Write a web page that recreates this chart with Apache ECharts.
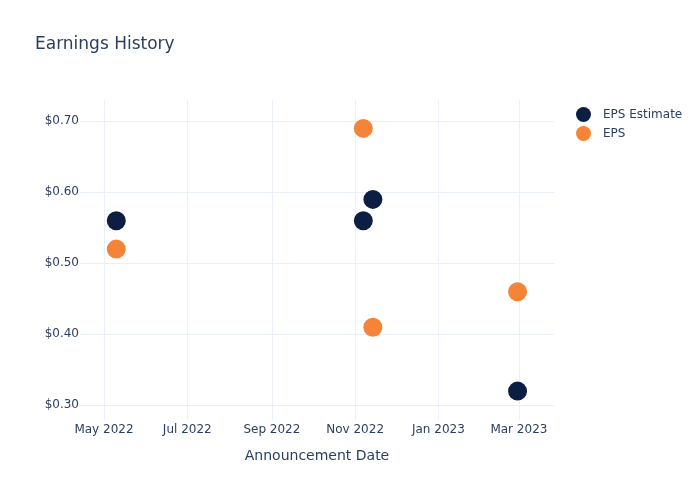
<!DOCTYPE html>
<html>
<head>
<meta charset="utf-8">
<script src="https://cdn.jsdelivr.net/npm/echarts@6/dist/echarts.min.js"></script>
<style>html,body{margin:0;padding:0;background:#fff;}#c{width:700px;height:500px;}</style>
</head>
<body>
<div id="c"></div>
<script>
const announcementDates = ['2022-05-10', '2022-11-07', '2022-11-14', '2023-02-28'];
const epsEstimate = [0.56, 0.56, 0.59, 0.32];
const epsActual = [0.52, 0.69, 0.41, 0.46];
const xTickDates = ['2022-05-01', '2022-07-01', '2022-09-01', '2022-11-01', '2023-01-01', '2023-03-01'];
const xTickLabels = ['May 2022', 'Jul 2022', 'Sep 2022', 'Nov 2022', 'Jan 2023', 'Mar 2023'];
const yTicks = [0.3, 0.4, 0.5, 0.6, 0.7];

const FONT = 'DejaVu Sans';
const TXT = '#2a3f5f';
const GRID = '#ebf0f8';
const ts = s => new Date(s + 'T00:00:00Z').getTime();
const xTickValues = xTickDates.map(ts);

const chart = echarts.init(document.getElementById('c'), null, {renderer: 'canvas'});
chart.setOption({
  animation: false,
  backgroundColor: '#fff',
  textStyle: {fontFamily: FONT},
  title: {
    text: 'Earnings History',
    left: 35, top: 36, padding: 0,
    textStyle: {fontFamily: FONT, fontSize: 17, fontWeight: 'normal', color: TXT}
  },
  legend: {
    orient: 'vertical', left: 576, top: 107, padding: 0,
    itemWidth: 29, itemHeight: 15, itemGap: 4, icon: 'circle',
    textStyle: {fontFamily: FONT, fontSize: 12, color: TXT},
    data: ['EPS Estimate', 'EPS']
  },
  grid: {left: 80, right: 146, top: 100, bottom: 80, containLabel: false},
  xAxis: {
    type: 'value',
    min: ts('2022-04-13') + 10 * 3600e3,
    max: ts('2023-03-26') + 17 * 3600e3,
    name: 'Announcement Date',
    nameLocation: 'middle', nameGap: 29,
    nameTextStyle: {fontFamily: FONT, fontSize: 14, color: TXT},
    axisLine: {show: false},
    axisTick: {show: false, customValues: xTickValues},
    axisLabel: {
      customValues: xTickValues, margin: 4,
      fontFamily: FONT, fontSize: 12, color: TXT, hideOverlap: false,
      formatter: v => { const i = xTickValues.indexOf(v); return i >= 0 ? xTickLabels[i] : ''; }
    },
    splitLine: {show: true, lineStyle: {color: GRID, width: 1}}
  },
  yAxis: {
    type: 'value',
    min: 0.2793, max: 0.7300,
    axisLine: {show: false},
    axisTick: {show: false, customValues: yTicks},
    axisLabel: {
      customValues: yTicks, margin: 1, padding: [6, 0, 0, 0],
      fontFamily: FONT, fontSize: 12, color: TXT,
      formatter: v => '$' + v.toFixed(2)
    },
    splitLine: {show: true, lineStyle: {color: GRID, width: 1}}
  },
  series: [
    {
      name: 'EPS Estimate', type: 'scatter', symbol: 'circle', symbolSize: 19,
      itemStyle: {color: '#0c1f43', opacity: 1},
      data: announcementDates.map((d, i) => [ts(d), epsEstimate[i]])
    },
    {
      name: 'EPS', type: 'scatter', symbol: 'circle', symbolSize: 19,
      itemStyle: {color: '#f58438', opacity: 1},
      data: announcementDates.map((d, i) => [ts(d), epsActual[i]])
    }
  ]
});
</script>
</body>
</html>
